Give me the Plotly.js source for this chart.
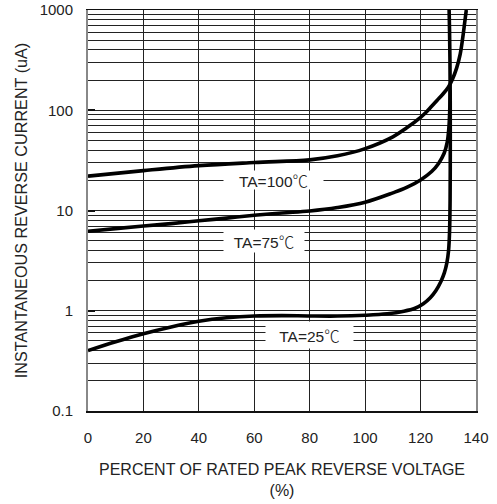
<!DOCTYPE html>
<html>
<head>
<meta charset="utf-8">
<script src="https://cdn.plot.ly/plotly-3.0.1.min.js"></script>
<style>html,body{margin:0;padding:0;background:#fff;}#chart{width:497px;height:504px;}</style>
</head>
<body>
<div id="chart"></div>
<script>
// Data
const ta100X = [0, 20, 40, 60, 80, 90, 100, 110, 115, 120, 122, 124, 126, 128, 130, 131.5, 133, 134.3, 135.2, 135.9, 136.5];
const ta100Y = [22.0, 25.0, 28.0, 30.1, 32.0, 35.1, 41.4, 54.3, 66.8, 85.1, 95.5, 109.6, 125.9, 144.5, 169.8, 204, 263, 363, 525, 741, 1000];

const ta75X = [0, 10, 20, 30, 40, 50, 60, 70, 80, 90, 100, 110, 115, 120, 124, 126.5, 128.5, 129.6, 130.2, 130.5, 130.65];
const ta75Y = [6.2, 6.6, 7.0, 7.4, 7.9, 8.4, 8.95, 9.44, 9.89, 10.7, 12.1, 15.0, 17.0, 20.2, 24.5, 29.5, 37.2, 47.9, 66.1, 95.5, 158];

const ta25X = [0, 10, 20, 30, 40, 50, 60, 70, 80, 90, 100, 108, 114, 118, 121, 123.5, 125.5, 127.3, 128.6, 129.5, 130.1, 130.45, 130.65, 130.72, 130.7, 130.6, 130.45, 130.3];
const ta25Y = [0.40, 0.49, 0.59, 0.69, 0.785, 0.851, 0.887, 0.895, 0.887, 0.885, 0.902, 0.933, 0.989, 1.059, 1.175, 1.349, 1.585, 1.95, 2.4, 3.02, 3.98, 6.03, 12.6, 39.8, 126, 316, 631, 1000];

const labelText = ['TA=100', 'TA=75', 'TA=25'];
const labelUnit = '\u2103';
const labelX = [66.9, 63.5, 79.9];
const labelY = [20, 5, 0.575];
const labelW = [97, 78, 85];
const labelH = [16, 20, 24];

const yTickVals = [0.1, 1, 10, 100, 1000];
const yTickText = ['0.1', '1', '10', '100', '1000'];
const xTickVals = [0, 20, 40, 60, 80, 100, 120, 140];

const font = 'Liberation Sans, Arial, Helvetica, sans-serif';
const lineStyle = {color: '#000', width: 3.6, shape: 'spline', smoothing: 1};

const traces = [
  {x: ta100X, y: ta100Y, mode: 'lines', line: lineStyle, hoverinfo: 'skip'},
  {x: ta75X, y: ta75Y, mode: 'lines', line: lineStyle, hoverinfo: 'skip'},
  {x: ta25X, y: ta25Y, mode: 'lines', line: lineStyle, hoverinfo: 'skip'}
];

const annotations = labelText.map((t, i) => ({
  text: t + '<span style="font-family:Noto Sans CJK SC;font-weight:300">' + labelUnit + '</span>',
  x: labelX[i], y: Math.log10(labelY[i]), xref: 'x', yref: 'y',
  showarrow: false, bgcolor: '#fff', width: labelW[i], height: labelH[i],
  font: {family: font, size: 15.5, color: '#222'}
}));

const layout = {
  width: 497, height: 504,
  margin: {l: 88, r: 21, t: 10, b: 93, pad: 0},
  paper_bgcolor: '#fff', plot_bgcolor: '#fff',
  showlegend: false,
  font: {family: font, color: '#222'},
  xaxis: {
    range: [0, 140], tickvals: xTickVals, showgrid: true, gridcolor: '#222', gridwidth: 1,
    zeroline: false, showline: true, linecolor: '#111', linewidth: 1.5, mirror: true,
    ticks: '', ticklabelstandoff: 12, tickfont: {family: font, size: 15, color: '#222'},
    title: {text: 'PERCENT OF RATED PEAK REVERSE VOLTAGE<br>(%)', font: {family: font, size: 16, color: '#222'}, standoff: 19}
  },
  yaxis: {
    type: 'log', range: [-1, 3], tickvals: yTickVals, ticktext: yTickText,
    showgrid: true, gridcolor: '#222', gridwidth: 1,
    minor: {dtick: 'D1', showgrid: true, gridcolor: '#222', gridwidth: 1, ticks: ''},
    zeroline: false, showline: true, linecolor: '#888', linewidth: 2, mirror: true,
    ticks: 'inside', ticklen: 7, tickwidth: 2, tickcolor: '#111',
    ticklabelstandoff: 10, tickfont: {family: font, size: 15, color: '#222'},
    title: {text: 'INSTANTANEOUS REVERSE CURRENT (uA)', font: {family: font, size: 16.2, color: '#222'}, standoff: 8}
  },
  annotations: annotations
};

Plotly.newPlot('chart', traces, layout, {staticPlot: true, displayModeBar: false});
</script>
</body>
</html>
